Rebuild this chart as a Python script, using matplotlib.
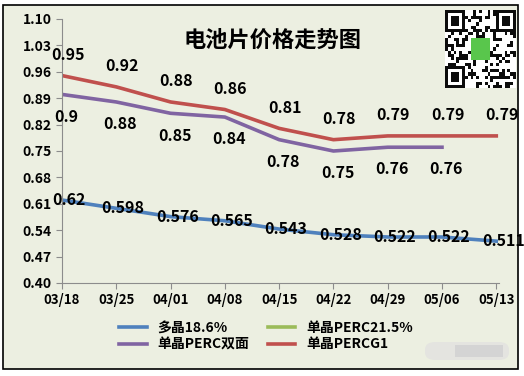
import numpy as np
import matplotlib
matplotlib.use("Agg")
import matplotlib.pyplot as plt
from matplotlib.patches import Rectangle, FancyBboxPatch

plt.rcParams['font.family'] = ['Noto Sans CJK SC', 'DejaVu Sans']

dates = ["03/18", "03/25", "04/01", "04/08", "04/15", "04/22", "04/29", "05/06", "05/13"]
poly_186 = [0.62, 0.598, 0.576, 0.565, 0.543, 0.528, 0.522, 0.522, 0.511]
perc_215 = []  # 图中无数据
perc_bifacial = [0.90, 0.88, 0.85, 0.84, 0.78, 0.75, 0.76, 0.76]
perc_g1 = [0.95, 0.92, 0.88, 0.86, 0.81, 0.78, 0.79, 0.79, 0.79]
yticks = [0.40, 0.47, 0.54, 0.61, 0.68, 0.75, 0.82, 0.89, 0.96, 1.03, 1.10]

W, H = 524, 376
bg = "#ecefe1"
fig = plt.figure(figsize=(W / 100, H / 100), dpi=100)
fig.patch.set_facecolor("white")
fig.patches.append(Rectangle((3 / W, 1 - 369 / H), 515 / W, 364 / H, transform=fig.transFigure,
                             facecolor=bg, edgecolor="black", lw=1.2, zorder=-1))

ax = fig.add_axes([62 / W, 1 - 283 / H, 437 / W, 264 / H])
ax.set_facecolor("none")
x = np.arange(len(dates))
c_blue, c_green, c_purple, c_red = "#4f81bd", "#9bbb59", "#8064a2", "#c0504d"

l1, = ax.plot(x[:len(poly_186)], poly_186, color=c_blue, lw=2.6, label="多晶18.6%")
l2, = ax.plot(x[:len(perc_215)], perc_215, color=c_green, lw=2.6, label="单晶PERC21.5%")
l3, = ax.plot(x[:len(perc_bifacial)], perc_bifacial, color=c_purple, lw=2.6, label="单晶PERC双面")
l4, = ax.plot(x[:len(perc_g1)], perc_g1, color=c_red, lw=2.6, label="单晶PERCG1")

lab = dict(fontsize=11.5, fontweight="bold", ha="center", va="center", color="black")
for i, v in enumerate(perc_g1):
    ax.annotate(f"{v:g}", (x[i], v), xytext=(4, 15), textcoords="offset points", **lab)
for i, v in enumerate(perc_bifacial):
    ax.annotate(f"{v:g}", (x[i], v), xytext=(3, -16), textcoords="offset points", **lab)
for i, v in enumerate(poly_186):
    ax.annotate(f"{v:g}", (x[i], v), xytext=(5, 0), textcoords="offset points", **lab)

ax.set_xlim(0, 8.05)
ax.set_ylim(0.40, 1.10)
ax.set_yticks(yticks)
ax.set_yticklabels([f"{t:.2f}" for t in yticks], fontsize=10, fontweight="bold")
ax.set_xticks(x)
ax.set_xticklabels(dates, fontsize=9.5, fontweight="bold")
for s in ["top", "right"]:
    ax.spines[s].set_visible(False)
for s in ["left", "bottom"]:
    ax.spines[s].set_color("#8c8c8c")
ax.tick_params(colors="#8c8c8c", labelcolor="black", length=4)

fig.text(272 / W, 1 - 40 / H, "电池片价格走势图", fontsize=16, fontweight="bold", ha="center", va="center")

fig.legend([l1, l3, l2, l4], [l.get_label() for l in [l1, l3, l2, l4]], ncol=2, frameon=False,
           loc="center", bbox_to_anchor=(266 / W, 1 - 336 / H), handlelength=2.0,
           columnspacing=1.3, labelspacing=0.2, prop={"weight": "bold", "size": 10})

# 二维码（示意）
qa = fig.add_axes([445 / W, 1 - 88 / H, 70 / W, 78 / H])
n = 25
i, j = np.mgrid[0:n, 0:n]
qr = ((i * 7 + j * 13) ^ (i * j + 3)) % 3 == 0
for (r0, c0) in [(0, 0), (0, n - 7), (n - 7, 0)]:
    qr[r0:r0 + 7, c0:c0 + 7] = True
    qr[r0 + 1:r0 + 6, c0 + 1:c0 + 6] = False
    qr[r0 + 2:r0 + 5, c0 + 2:c0 + 5] = True
img = np.ones((n, n, 3))
img[qr] = 0.05
img[9:16, 9:16] = [0.35, 0.78, 0.3]
qa.imshow(img, interpolation="nearest", aspect="auto")
qa.axis("off")

# 水印（模糊）
fig.patches.append(FancyBboxPatch((425 / W, 1 - 360 / H), 84 / W, 18 / H, transform=fig.transFigure,
                                  boxstyle="round,pad=0,rounding_size=0.02",
                                  facecolor="#e4e4e0", edgecolor="none"))
fig.patches.append(Rectangle((455 / W, 1 - 357 / H), 48 / W, 12 / H, transform=fig.transFigure,
                             facecolor="#d4d4d4", edgecolor="none"))

fig.savefig("out.png", dpi=100, facecolor=fig.get_facecolor())
